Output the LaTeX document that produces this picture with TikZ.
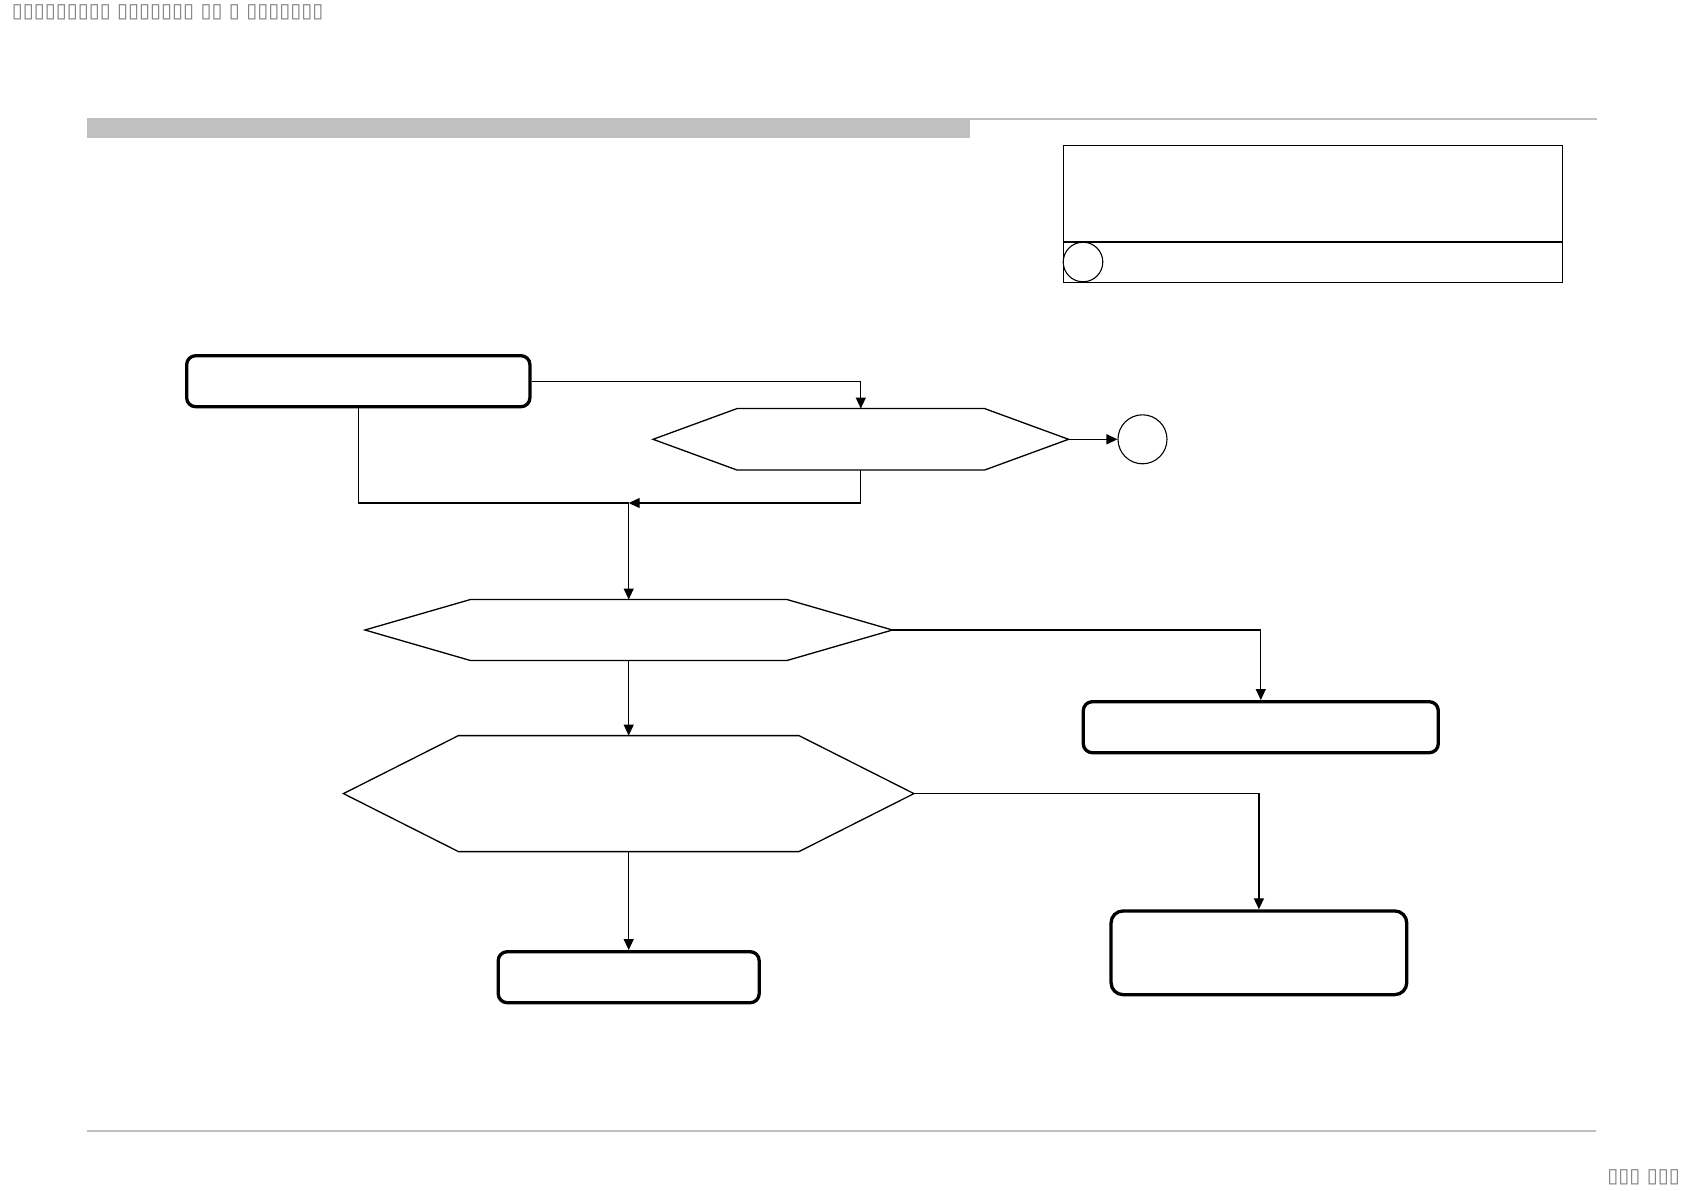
\documentclass[tikz,border=0pt]{standalone}
\usepackage{fontspec}
\newfontfamily\tofu{DejaVu Sans}
\usetikzlibrary{arrows.meta}
\definecolor{bargray}{HTML}{C0C0C0}
\definecolor{txtgray}{HTML}{808080}
\begin{document}
\begin{tikzpicture}[x=1pt,y=-1pt,
  conn/.style={line width=1.3pt,draw=black},
  arr/.style={conn,-{Triangle[length=11pt,width=10pt]}},
  rbox/.style={draw=black,line width=3.3pt,rounded corners=9pt,inner sep=0pt,fill=white},
  hexanchor/.style={inner sep=0pt,outer sep=0pt},
  hexline/.style={line width=1.3pt,draw=black,fill=white},
  plain/.style={draw=black,line width=1.1pt},
  tofutext/.style={inner sep=0pt,text=txtgray,font=\tofu\fontsize{20}{20}\selectfont}
]
\useasboundingbox (0,0) rectangle (1684,1191);

% header text and page number
\node[tofutext,anchor=west] (hdrtext) at (11.7,12) {▯▯▯▯▯▯▯▯▯ ▯▯▯▯▯▯▯ ▯▯ ▯ ▯▯▯▯▯▯▯};
\node[tofutext,anchor=east] (pgno) at (1680,1177) {▯▯▯ ▯▯▯};

% header bar and rules
\fill[bargray] (87,118) rectangle (970,137.5);
\draw[bargray,line width=1.7pt] (970,119) -- (1597,119);
\draw[bargray,line width=1.5pt] (87,1131) -- (1596,1131);

% top-right info box
\node[plain,minimum width=499pt,minimum height=136.5pt,inner sep=0pt,anchor=north west] (info) at (1063,145) {};
\draw[plain] (1063,242) -- (1562,242);
\node[plain,circle,minimum size=39.6pt,inner sep=0pt] (infocirc) at (1083,262) {};

% start box
\node[rbox,minimum width=343.3pt,minimum height=51pt] (start) at (358.3,381.2) {};

% hexagon 1
\node[hexanchor,minimum width=415.5pt,minimum height=61.5pt] (h1) at (860.8,439.3) {};
\draw[hexline] (h1.west) -- ([xshift=84pt]h1.north west) -- ([xshift=-84pt]h1.north east) -- (h1.east) -- ([xshift=-84pt]h1.south east) -- ([xshift=84pt]h1.south west) -- cycle;
\node[plain,circle,minimum size=49pt,inner sep=0pt] (c1) at (1142.5,439.3) {};

% hexagon 2
\node[hexanchor,minimum width=527.5pt,minimum height=61pt] (h2) at (628.7,630) {};
\draw[hexline] (h2.west) -- ([xshift=105.5pt]h2.north west) -- ([xshift=-105.5pt]h2.north east) -- (h2.east) -- ([xshift=-105.5pt]h2.south east) -- ([xshift=105.5pt]h2.south west) -- cycle;

% hexagon 3
\node[hexanchor,minimum width=570.5pt,minimum height=116pt] (h3) at (628.7,793.6) {};
\draw[hexline] (h3.west) -- ([xshift=115pt]h3.north west) -- ([xshift=-115pt]h3.north east) -- (h3.east) -- ([xshift=-115pt]h3.south east) -- ([xshift=115pt]h3.south west) -- cycle;

% result boxes
\node[rbox,minimum width=355pt,minimum height=51pt] (b3) at (1260.8,727.2) {};
\node[rbox,minimum width=261pt,minimum height=51pt] (b4) at (628.7,977.2) {};
\node[rbox,minimum width=295.7pt,minimum height=83.7pt,rounded corners=12pt] (b5) at (1258.9,952.8) {};

% connectors
\coordinate (J) at (628.7,503);
\draw[arr] (start.east) -| (h1.north);
\draw[conn] (start.south) |- (J);
\draw[arr] (h1.south) |- (J);
\draw[arr] (h1.east) -- (c1.west);
\draw[arr] (J) -- (h2.north);
\draw[arr] (h2.east) -| (b3.north);
\draw[arr] (h2.south) -- (h3.north);
\draw[arr] (h3.east) -| (b5.north);
\draw[arr] (h3.south) -- (b4.north);
\end{tikzpicture}
\end{document}
